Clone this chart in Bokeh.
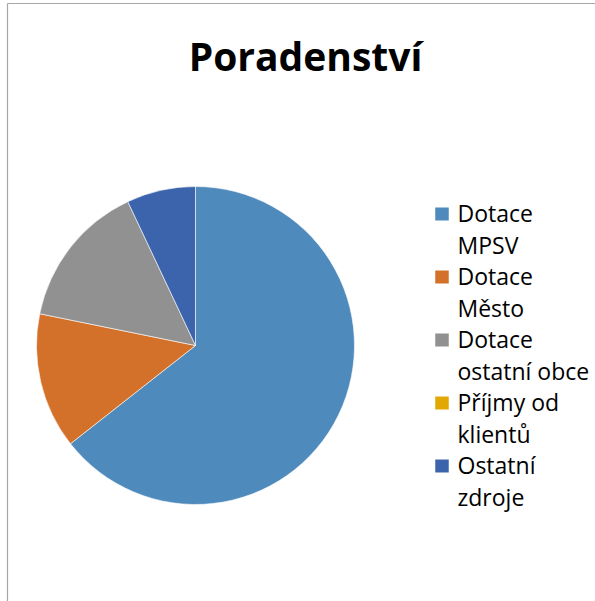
import math
from bokeh.plotting import figure
from bokeh.models import ColumnDataSource, Range1d
from bokeh.core.properties import value
from bokeh.embed import file_html
from bokeh.resources import INLINE

# ---- data ----
title_text = "Poradenství"
categories = ["Dotace\nMPSV", "Dotace\nMěsto", "Dotace\nostatní obce", "Příjmy od\nklientů", "Ostatní\nzdroje"]
shares = [64.4, 13.8, 14.8, 0.0, 7.0]
colors = ["#4F8ABD", "#D3702A", "#919191", "#E2A700", "#3C64AC"]

# ---- layout (page pixels) ----
W, H = 595, 601
def py(y):
    return H - y

p = figure(width=W, height=H, output_backend="svg", toolbar_location=None,
           x_range=Range1d(0, W), y_range=Range1d(0, H),
           min_border=0, outline_line_color=None, background_fill_color="white")
p.axis.visible = False
p.grid.visible = False

# frame lines (left and top)
p.line(x=[7, 7], y=[py(3), py(601)], line_color="#A6A6A6", line_width=1.2)
p.line(x=[7, 600], y=[py(3), py(3)], line_color="#A6A6A6", line_width=1.2)

# pie
cx, cy, r = 195, py(345), 159
total = sum(shares)
starts, ends, cols = [], [], []
cum = 0.0
for s, c in zip(shares, colors):
    a0 = math.pi / 2 - 2 * math.pi * cum / total
    cum += s
    a1 = math.pi / 2 - 2 * math.pi * cum / total
    if s > 0:
        starts.append(a0); ends.append(a1); cols.append(c)
src = ColumnDataSource(dict(start=starts, end=ends, color=cols))
p.wedge(x=cx, y=cy, radius=r, start_angle="start", end_angle="end", direction="clock",
        fill_color="color", line_color="white", line_width=0.6, source=src)

# title (vertical centre of capitals at ~55)
p.text(x=[305], y=[py(55)], text=[title_text], text_font=value("Open Sans"),
       text_font_style="bold", text_font_size="39px", text_align="center",
       text_baseline="middle", text_color="black")

# legend (vertical centre of first line capitals at ~212)
lx_box, lx_text = 441.5, 457
c0, entry_gap, line_gap = 212.5, 63.0, 31.6
bx, by, tx, ty, tt = [], [], [], [], []
for i, (cat, col) in enumerate(zip(categories, colors)):
    c = c0 + entry_gap * i
    bx.append(lx_box); by.append(py(c + 1))
    for j, line in enumerate(cat.split("\n")):
        tx.append(lx_text); ty.append(py(c + line_gap * j)); tt.append(line)
p.rect(x=bx, y=by, width=13.5, height=13, fill_color=colors, line_color=None)
p.text(x=tx, y=ty, text=tt, text_font=value("Open Sans"), text_font_size="23px",
       text_align="left", text_baseline="middle", text_color="black")

open("out.html", "w").write(file_html(p, INLINE))
